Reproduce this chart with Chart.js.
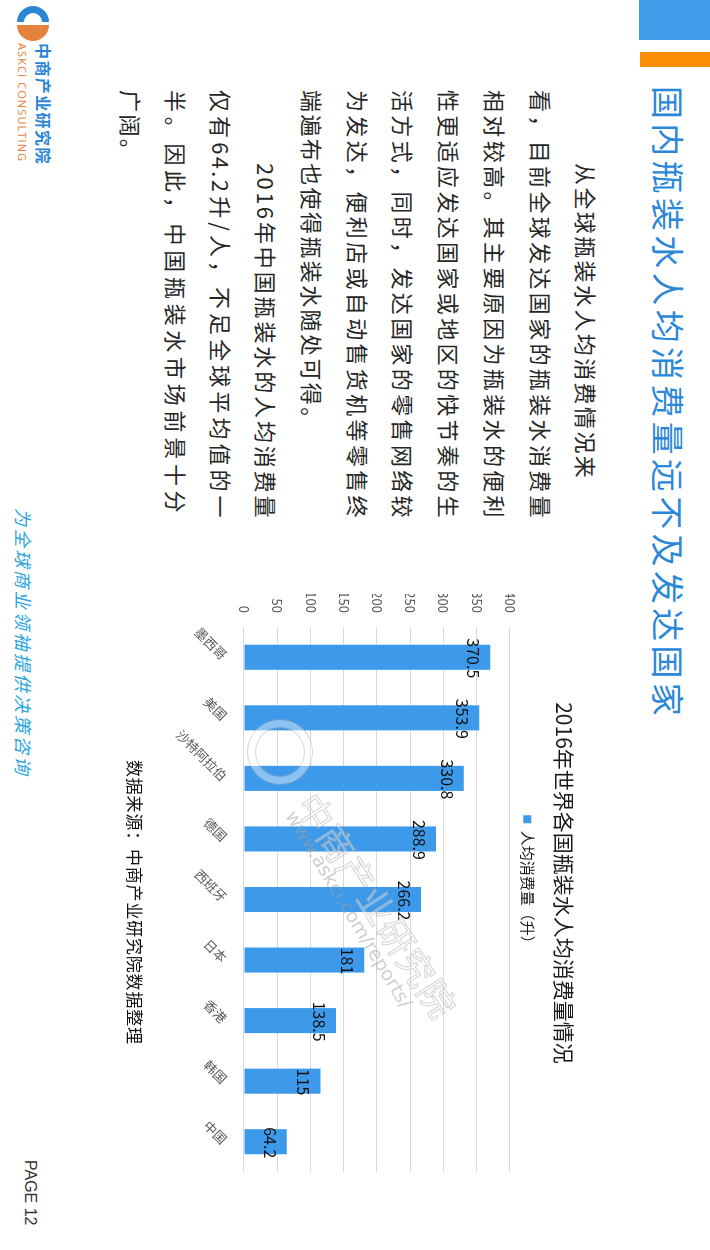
<!DOCTYPE html>
<html>
<head>
<meta charset="utf-8">
<title>2016年世界各国瓶装水人均消费量情况</title>
<script src="https://cdn.jsdelivr.net/npm/chart.js@4.4.1/dist/chart.umd.min.js"></script>
<style>
    html, body { margin: 0; padding: 0; background: #fff; overflow: hidden; }
    body { width: 710px; height: 1250px; position: relative; }
    /* the slide is laid out landscape and turned a quarter clockwise */
    #slide {
        position: absolute; left: 0; top: 0;
        width: 1250px; height: 710px;
        transform-origin: 0 0;
        transform: translateX(710px) rotate(90deg);
        font-family: "Noto Sans CJK SC", sans-serif;
        background: #fff;
    }
    .abs { position: absolute; white-space: nowrap; }
    #blue-box { left: 0; top: 0; width: 40px; height: 71px; background: #3f9ce9; }
    #orange-bar { left: 52px; top: 0; width: 15px; height: 70px; background: #fc8d06; }
    #page-title { left: 86px; top: 19px; font-size: 33px; line-height: 44px; letter-spacing: 4.3px; color: #2b87d7; }
    .line { position: absolute; left: 90px; width: 430px; font-size: 22px; line-height: 30px; letter-spacing: 2.4px; color: #262626; white-space: nowrap; }
    .just { text-align: justify; text-align-last: justify; }
    #source { left: 760px; top: 563px; font-size: 17px; line-height: 24px; letter-spacing: 0.8px; color: #111; }
    #slogan { left: 508px; top: 674px; font-size: 18px; line-height: 24px; letter-spacing: 2.7px; color: #2aa5e2; font-style: italic; }
    #page-no { left: 1160px; top: 669px; font-size: 16px; line-height: 22px; color: #333; font-family: "Liberation Sans", Arial, sans-serif; }
    #logo-cn { left: 43px; top: 656px; font-size: 16px; line-height: 20px; font-weight: bold; letter-spacing: 1.4px; color: #2b86d6; }
    #logo-en { left: 43px; top: 681px; font-size: 11px; line-height: 13px; letter-spacing: 1.1px; color: #e5823c; font-family: "Open Sans", sans-serif; }
    #chart-wrap { position: absolute; left: 560px; top: 118px; width: 646px; height: 460px; }
    .wm { position: absolute; white-space: nowrap; transform-origin: 0 50%; pointer-events: none; }
    #wm-cn { left: 796px; top: 376px; font-size: 36px; letter-spacing: 1px; color: rgba(255,255,255,0.35); -webkit-text-stroke: 1px rgba(170,170,170,0.5); transform: rotate(-33deg); }
    #wm-url { left: 812px; top: 408px; font-size: 19px; color: rgba(160,160,160,0.5); font-family: "DejaVu Sans", sans-serif; transform: rotate(-31deg); }
    #wm-ring { left: 720px; top: 398px; width: 50px; height: 50px; border-radius: 50%; border: 7px solid rgba(255,255,255,0.4); box-shadow: 0 0 0 1px rgba(170,170,170,0.5), inset 0 0 0 1px rgba(170,170,170,0.5); }
</style>
</head>
<body>
<div id="slide">
    <div id="blue-box" class="abs"></div>
    <div id="orange-bar" class="abs"></div>
    <div id="page-title" class="abs">国内瓶装水人均消费量远不及发达国家</div>

    <div class="line" style="top:108px;padding-left:73px;width:357px;" >从全球瓶装水人均消费情况来</div>
    <div class="line just" style="top:153px;">看，目前全球发达国家的瓶装水消费量</div>
    <div class="line just" style="top:199px;">相对较高。其主要原因为瓶装水的便利</div>
    <div class="line just" style="top:245px;">性更适应发达国家或地区的快节奏的生</div>
    <div class="line just" style="top:291px;">活方式，同时，发达国家的零售网络较</div>
    <div class="line just" style="top:336px;">为发达，便利店或自动售货机等零售终</div>
    <div class="line" style="top:382px;">端遍布也使得瓶装水随处可得。</div>
    <div class="line just" style="top:428px;padding-left:73px;width:357px;">2016年中国瓶装水的人均消费量</div>
    <div class="line just" style="top:473px;">仅有64.2升/人，不足全球平均值的一</div>
    <div class="line just" style="top:518px;width:425px;">半。因此，中国瓶装水市场前景十分</div>
    <div class="line" style="top:563px;">广阔。</div>

    <div id="chart-wrap"><canvas id="bottled-water-chart" width="646" height="460"></canvas></div>

    <div id="wm-ring" class="wm"></div>
    <div id="wm-cn" class="wm">中商产业研究院</div>
    <div id="wm-url" class="wm">www.askci.com/reports/</div>

    <div id="source" class="abs">数据来源：中商产业研究院数据整理</div>

    <svg class="abs" style="left:5px;top:659px;" width="36" height="36" viewBox="0 0 36 36">
        <path d="M17,2 A16,16 0 0 0 17,34 L17,27 A9,9 0 0 1 17,9 Z" fill="#2b86d6"/>
        <path d="M20,2 A16,16 0 0 1 20,34 Z" fill="#e5823c"/>
    </svg>
    <div id="logo-cn" class="abs">中商产业研究院</div>
    <div id="logo-en" class="abs">ASKCI CONSULTING</div>
    <div id="slogan" class="abs">为全球商业领袖提供决策咨询</div>
    <div id="page-no" class="abs">PAGE 12</div>
</div>

<script>
const countries = ['墨西哥', '美国', '沙特阿拉伯', '德国', '西班牙', '日本', '香港', '韩国', '中国'];
const consumption = [370.5, 353.9, 330.8, 288.9, 266.2, 181, 138.5, 115, 64.2];
const seriesName = '人均消费量（升）';
const chartTitle = '2016年世界各国瓶装水人均消费量情况';
const axisMin = 0;
const axisMax = 400;
const axisStep = 50;

const cjkFont = '"Noto Sans CJK SC", sans-serif';

// value labels sit just inside the top end of each bar
const barLabels = {
    id: 'barLabels',
    afterDatasetsDraw(chart) {
        const ctx = chart.ctx;
        const meta = chart.getDatasetMeta(0);
        ctx.save();
        ctx.font = '16px ' + cjkFont;
        ctx.fillStyle = '#111';
        ctx.textAlign = 'center';
        ctx.textBaseline = 'middle';
        meta.data.forEach((bar, i) => {
            ctx.fillText(String(consumption[i]), bar.x + 1, bar.y + 17);
        });
        ctx.restore();
    }
};

const ctx = document.getElementById('bottled-water-chart').getContext('2d');
const waterChart = new Chart(ctx, {
    type: 'bar',
    data: {
        labels: countries,
        datasets: [{
            label: seriesName,
            data: consumption,
            backgroundColor: '#3d9aea',
            borderWidth: 0,
            categoryPercentage: 1,
            barPercentage: 0.414
        }]
    },
    options: {
        responsive: false,
        animation: false,
        devicePixelRatio: 1,
        layout: {
            // left padding keeps the title and legend centred where the original has them
            padding: { left: 34, right: 34, top: 0, bottom: 0 }
        },
        scales: {
            x: {
                grid: { display: false, drawTicks: false },
                border: { display: false },
                ticks: {
                    color: '#595959',
                    font: { family: cjkFont, size: 13 },
                    minRotation: 45,
                    maxRotation: 45,
                    padding: 14,
                    autoSkip: false
                },
                afterFit: (scale) => { scale.height = 112; }
            },
            y: {
                min: axisMin,
                max: axisMax,
                grid: { color: '#d9d9d9', lineWidth: 1, drawTicks: false },
                border: { display: false },
                ticks: {
                    stepSize: axisStep,
                    color: '#595959',
                    font: { family: cjkFont, size: 13 },
                    padding: 14
                },
                afterFit: (scale) => { scale.width = 33; }
            }
        },
        plugins: {
            title: {
                display: true,
                text: chartTitle,
                color: '#1a1a1a',
                font: { family: cjkFont, size: 21, weight: 'normal' },
                padding: { top: 15, bottom: 17 }
            },
            legend: {
                display: true,
                position: 'top',
                labels: {
                    boxWidth: 8,
                    boxHeight: 8,
                    padding: 0,
                    color: '#1a1a1a',
                    font: { family: cjkFont, size: 15 }
                }
            },
            tooltip: { enabled: false }
        }
    },
    plugins: [barLabels]
});
</script>
</body>
</html>
